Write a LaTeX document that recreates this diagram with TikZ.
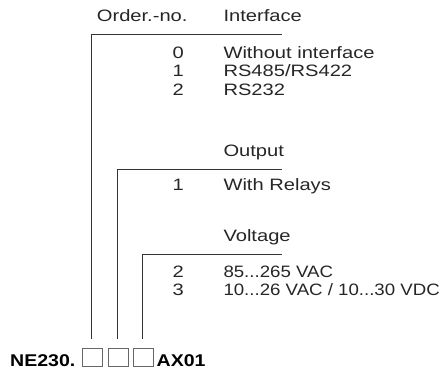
\documentclass[tikz,border=0pt]{standalone}
\usepackage{fontspec}
\setmainfont{Liberation Sans}
\newfontfamily\lightfont[FakeStretch=1.22]{Liberation Sans}
\newfontfamily\tightfont[FakeStretch=1.13]{Liberation Sans}
\newfontfamily\heavyfont[FakeStretch=1.15]{Liberation Sans}
\begin{document}
\begin{tikzpicture}[x=1pt,y=-1pt,
    txt/.style={anchor=base west, inner sep=0pt, text=black!85,
      font=\lightfont\fontsize{16.5}{20}\selectfont},
    tighttxt/.style={txt, font=\tightfont\fontsize{16.5}{20}\selectfont},
    num/.style={anchor=base east, inner sep=0pt, text=black!85,
      font=\lightfont\fontsize{16.5}{20}\selectfont},
    code/.style={anchor=base west, inner sep=0pt,
      font=\heavyfont\bfseries\fontsize{17}{20}\selectfont},
    codebox/.style={draw=black!60, line width=0.8pt, anchor=south west,
      minimum width=20pt, minimum height=17.5pt, inner sep=0pt},
    lead/.style={line width=1pt, draw=black!80}]
\useasboundingbox (0,0) rectangle (445,372);
                    % Nodes
                    \node[txt] (order) at (96.7,21.5) {Order.-no.};
                    \node[txt] (iface) at (223.3,21.5) {Interface};
                    \node[num] (i0) at (184,58.5) {0};
                    \node[txt] (t0) at (223.3,58.5) {Without interface};
                    \node[num] (i1) at (184,76.8) {1};
                    \node[txt] (t1) at (223.3,76.8) {RS485/RS422};
                    \node[num] (i2) at (184,95) {2};
                    \node[txt] (t2) at (223.3,95) {RS232};
                    \node[txt] (output) at (223.3,156) {Output};
                    \node[num] (o1) at (184,190) {1};
                    \node[txt] (r1) at (223.3,190) {With Relays};
                    \node[txt] (volt) at (223.3,241.5) {Voltage};
                    \node[num] (v2) at (184,277.5) {2};
                    \node[tighttxt] (u2) at (223.3,277.5) {85...265 VAC};
                    \node[num] (v3) at (184,295.5) {3};
                    \node[tighttxt] (u3) at (223.3,295.5) {10...26 VAC / 10...30 VDC};
                    \node[code] (ne) at (10,366.5) {NE230.};
                    \node[codebox] (box1) at (81.5,366.5) {};
                    \node[codebox] (box2) at (107.5,366.5) {};
                    \node[codebox] (box3) at (132.5,366.5) {};
                    \node[code] (ax) at (156.5,366.5) {AX01};
                    \coordinate (end1) at (281.5,34);
                    \coordinate (end2) at (282,169.4);
                    \coordinate (end3) at (282,254.6);
                    % Edges
                    \draw[lead] ([yshift=9pt]box1.north) |- (end1);
                    \draw[lead] ([yshift=9pt]box2.north) |- (end2);
                    \draw[lead] ([yshift=9pt]box3.north) |- (end3);
                \end{tikzpicture}
\end{document}
